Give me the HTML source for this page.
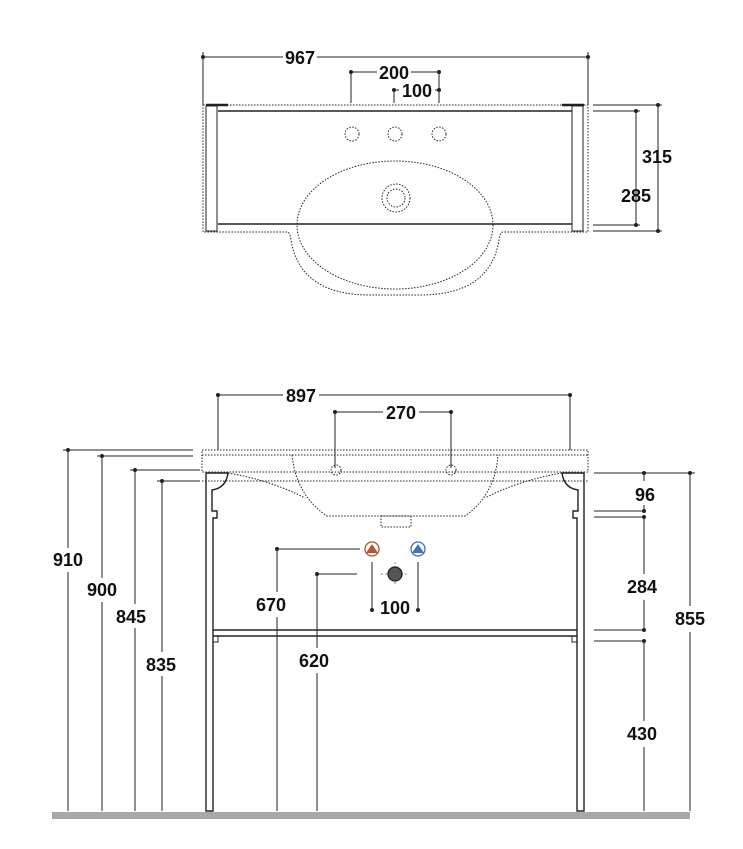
<!DOCTYPE html>
<html><head><meta charset="utf-8"><style>
body{margin:0;background:#fff}
text{font-family:"Liberation Sans",sans-serif;font-weight:bold;font-size:18px;fill:#111;text-anchor:middle}
</style></head><body>
<svg width="743" height="844" viewBox="0 0 743 844" xmlns="http://www.w3.org/2000/svg">
<g stroke="#222" fill="none" stroke-width="1">
<!-- TOP VIEW -->
<line x1="203" y1="57" x2="588" y2="57"/>
<line x1="203" y1="52" x2="203" y2="105"/><line x1="588" y1="52" x2="588" y2="105"/>
<line x1="351" y1="72" x2="439" y2="72"/><line x1="351" y1="72" x2="351" y2="103"/><line x1="439" y1="72" x2="439" y2="103"/>
<line x1="394" y1="90" x2="439" y2="90"/><line x1="394" y1="90" x2="394" y2="103"/>
<path d="M203 105 H588 V232 H503 Q500 232 499 240 Q490 295 420 295 H370 Q300 295 291 240 Q290 232 287 232 H203 Z" stroke-dasharray="1.5 1.5"/>
<line x1="218" y1="111" x2="572" y2="111" stroke-width="1.5"/>
<line x1="218" y1="224" x2="572" y2="224" stroke-width="1.5"/>
<rect x="206" y="106" width="11" height="125"/><rect x="572" y="106" width="11" height="125"/>
<line x1="206" y1="105" x2="228" y2="105" stroke-width="2.5"/><line x1="562" y1="105" x2="584" y2="105" stroke-width="2.5"/>
<g stroke-dasharray="1.5 1.5">
<circle cx="352" cy="134" r="7"/><circle cx="395" cy="134" r="7"/><circle cx="439" cy="134" r="7"/>
<ellipse cx="395" cy="225" rx="98" ry="64"/>
<circle cx="396" cy="198" r="14"/><circle cx="396" cy="198" r="9"/>
</g>
<line x1="593" y1="105" x2="662" y2="105"/><line x1="593" y1="231" x2="662" y2="231"/>
<line x1="593" y1="111" x2="640" y2="111"/><line x1="593" y1="225" x2="640" y2="225"/>
<line x1="658" y1="105" x2="658" y2="231"/><line x1="636" y1="111" x2="636" y2="225"/>
<!-- FRONT VIEW -->
<line x1="218" y1="395" x2="570" y2="395"/><line x1="218" y1="395" x2="218" y2="450"/><line x1="570" y1="395" x2="570" y2="450"/>
<line x1="335" y1="412" x2="451" y2="412"/><line x1="335" y1="412" x2="335" y2="468"/><line x1="451" y1="412" x2="451" y2="468"/>
<g stroke-dasharray="1.5 1.5">
<rect x="202" y="450" width="386" height="22"/>
<line x1="202" y1="455" x2="588" y2="455"/>
<path d="M292 455 Q296 495 327 516 H465 Q495 495 498 455"/>
<path d="M228 473 Q270 480 305 498"/><path d="M562 473 Q520 480 485 498"/>
<rect x="381" y="516" width="30" height="11"/>
<circle cx="336" cy="470" r="5"/><circle cx="451" cy="470" r="5"/>
<line x1="202" y1="481" x2="588" y2="481"/>
</g>
<path d="M206 811 V473 H228 Q226 488 212 490 V511 H217 V518 H213 V811 Z" stroke-width="1.4"/>
<path d="M584 811 V473 H562 Q564 488 578 490 V511 H573 V518 H577 V811 Z" stroke-width="1.4"/>
<line x1="213" y1="630" x2="577" y2="630" stroke-width="1.4"/>
<line x1="213" y1="636" x2="577" y2="636" stroke-width="1.4"/>
<rect x="213" y="636" width="5" height="6"/><rect x="572" y="636" width="5" height="6"/>
<!-- left dims -->
<line x1="63" y1="450" x2="193" y2="450"/><line x1="68" y1="450" x2="68" y2="548"/><line x1="68" y1="572" x2="68" y2="811"/>
<line x1="97" y1="456" x2="193" y2="456"/><line x1="102" y1="456" x2="102" y2="578"/><line x1="102" y1="602" x2="102" y2="811"/>
<line x1="130" y1="470" x2="200" y2="470"/><line x1="135" y1="470" x2="135" y2="604"/><line x1="135" y1="628" x2="135" y2="811"/>
<line x1="157" y1="481" x2="200" y2="481"/><line x1="162" y1="481" x2="162" y2="652"/><line x1="162" y1="676" x2="162" y2="811"/>
<!-- right dims -->
<line x1="594" y1="473" x2="695" y2="473"/><line x1="690" y1="473" x2="690" y2="606"/><line x1="690" y1="632" x2="690" y2="811"/>
<line x1="594" y1="511" x2="645" y2="511"/><line x1="594" y1="517" x2="645" y2="517"/>
<line x1="594" y1="630" x2="645" y2="630"/><line x1="594" y1="641" x2="645" y2="641"/>
<line x1="644" y1="473" x2="644" y2="481"/><line x1="644" y1="505" x2="644" y2="511"/>
<line x1="644" y1="517" x2="644" y2="574"/><line x1="644" y1="600" x2="644" y2="630"/>
<line x1="644" y1="641" x2="644" y2="721"/><line x1="644" y1="747" x2="644" y2="811"/>
<!-- service dims -->
<line x1="277" y1="549" x2="360" y2="549"/><line x1="277" y1="549" x2="277" y2="592"/><line x1="277" y1="617" x2="277" y2="811"/>
<line x1="317" y1="574" x2="357" y2="574"/><line x1="317" y1="574" x2="317" y2="648"/><line x1="317" y1="673" x2="317" y2="811"/>
<line x1="372" y1="562" x2="372" y2="610"/><line x1="418" y1="562" x2="418" y2="610"/>
<line x1="381" y1="574" x2="409" y2="574" stroke="#888" stroke-dasharray="2 2"/>
<line x1="395" y1="562" x2="395" y2="586" stroke="#888" stroke-dasharray="2 2"/>
</g>
<g fill="#222">
<circle cx="203" cy="57" r="2"/><circle cx="588" cy="57" r="2"/><circle cx="351" cy="72" r="2"/><circle cx="439" cy="72" r="2"/><circle cx="394" cy="90" r="2"/><circle cx="439" cy="90" r="2"/>
<circle cx="658" cy="105" r="2"/><circle cx="658" cy="231" r="2"/><circle cx="636" cy="111" r="2"/><circle cx="636" cy="225" r="2"/>
<circle cx="218" cy="395" r="2"/><circle cx="570" cy="395" r="2"/><circle cx="335" cy="412" r="2"/><circle cx="451" cy="412" r="2"/>
<circle cx="68" cy="450" r="2"/><circle cx="102" cy="456" r="2"/><circle cx="135" cy="470" r="2"/><circle cx="162" cy="481" r="2"/>
<circle cx="690" cy="473" r="2"/><circle cx="644" cy="473" r="2"/><circle cx="644" cy="511" r="2"/><circle cx="644" cy="517" r="2"/><circle cx="644" cy="630" r="2"/><circle cx="644" cy="641" r="2"/>
<circle cx="277" cy="549" r="2"/><circle cx="317" cy="574" r="2"/><circle cx="372" cy="610" r="2"/><circle cx="418" cy="610" r="2"/>
</g>
<circle cx="372" cy="549" r="7" fill="#fff" stroke="#b84a2c" stroke-width="1.3"/>
<path d="M366 553 L372 544 L378 553 Z" fill="#c0502e"/>
<circle cx="418" cy="549" r="7" fill="#fff" stroke="#3b6fb0" stroke-width="1.3"/>
<path d="M412 553 L418 544 L424 553 Z" fill="#3f73b8"/>
<circle cx="395" cy="574" r="7" fill="#555" stroke="#222" stroke-width="1.3"/>
<rect x="52" y="812" width="638" height="7" fill="#a8a8a8"/>
<g>
<rect x="283" y="47" width="34" height="20" fill="#fff"/><text x="300" y="64">967</text>
<rect x="377" y="62" width="34" height="20" fill="#fff"/><text x="394" y="79">200</text>
<rect x="399" y="80" width="36" height="20" fill="#fff"/><text x="417" y="97">100</text>
<text x="657" y="163">315</text><text x="636" y="202">285</text>
<rect x="283" y="385" width="36" height="20" fill="#fff"/><text x="301" y="402">897</text>
<rect x="383" y="402" width="36" height="20" fill="#fff"/><text x="401" y="419">270</text>
<text x="68" y="566">910</text><text x="102" y="596">900</text><text x="131" y="623">845</text><text x="161" y="671">835</text>
<text x="690" y="625">855</text><text x="645" y="501">96</text><text x="642" y="593">284</text><text x="642" y="740">430</text>
<text x="271" y="611">670</text><text x="314" y="667">620</text><text x="395" y="614">100</text>
</g>
</svg>
</body></html>
